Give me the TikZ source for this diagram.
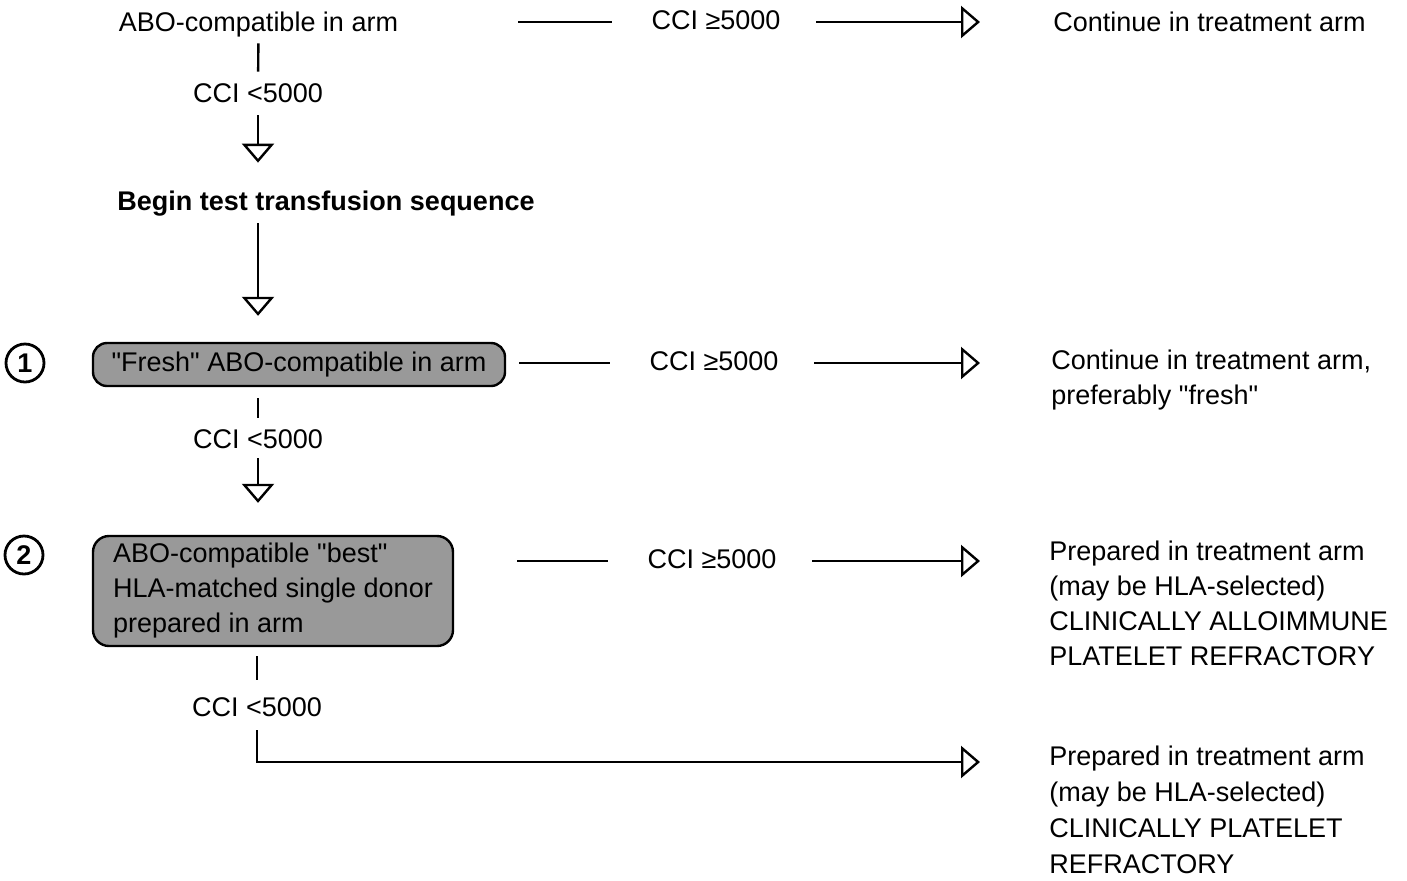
\documentclass[tikz,border=0pt]{standalone}
\usepackage{fontspec}
\setmainfont{Liberation Sans}[Ligatures=TeXOff]
\usetikzlibrary{arrows.meta}
\begin{document}
\begin{tikzpicture}[x=0.5pt,y=-0.5pt,
  every node/.style={font=\fontsize{13.5pt}{17.5pt}\selectfont},
  lbl/.style={inner sep=0pt,text height=9.5pt,text depth=2.5pt},
  cci/.style={lbl,minimum width=100pt},
  outc/.style={inner sep=0pt,align=left,anchor=west},
  stepbox/.style={draw,line width=1.2pt,fill=black!40,rounded corners=7pt,inner sep=0pt},
  num/.style={circle,draw,line width=1.4pt,minimum size=19pt,inner sep=0pt,font=\fontsize{13.5pt}{13.5pt}\selectfont\bfseries},
  ln/.style={line width=1.2pt},
  arr/.style={line width=1.2pt,-{Triangle[open,length=9.5pt,width=16pt,line width=1.2pt]}}
]
\useasboundingbox (0,0) rectangle (1407,880);

% left column
\node[lbl] (n1) at (258.5,24) {ABO-compatible in arm};
\node[lbl] (lt1) at (258,95) {CCI <5000};
\node[lbl,font=\fontsize{13.5pt}{17.5pt}\selectfont\bfseries] (beg) at (326,203) {Begin test transfusion sequence};
\node[stepbox,minimum width=206pt,minimum height=21.5pt] (box1) at (299,364.5) {"Fresh" ABO-compatible in arm};
\node[lbl] (lt2) at (258,441) {CCI <5000};
\node[stepbox,minimum width=180pt,minimum height=55pt,align=left,rounded corners=8pt] (box2) at (273,591)
  {ABO-compatible "best"\\HLA-matched single donor\\prepared in arm};
\node[lbl] (lt3) at (257,709) {CCI <5000};

% circled numbers
\node[num] (c1) at (25,363) {1};
\node[num] (c2) at (24,555) {2};

% middle labels
\node[cci] (ge1) at (716,22) {CCI ≥5000};
\node[cci] (ge2) at (714,363) {CCI ≥5000};
\node[cci] (ge3) at (712,561) {CCI ≥5000};

% outcomes
\node[outc] (o1) at (1053,22) {Continue in treatment arm};
\node[outc] (o2) at (1051,380) {Continue in treatment arm,\\preferably "fresh"};
\node[outc] (o3) at (1049,603) {Prepared in treatment arm\\(may be HLA-selected)\\CLINICALLY ALLOIMMUNE\\PLATELET REFRACTORY};
\node[outc,font=\fontsize{13.5pt}{18pt}\selectfont] (o4) at (1049,810) {Prepared in treatment arm\\(may be HLA-selected)\\CLINICALLY PLATELET\\REFRACTORY};
\coordinate (e4) at (980,762);

% vertical flow
\draw[ln,shorten <=3.5pt,shorten >=5.5pt] (n1) -- (lt1);
\draw[arr,shorten <=4pt,shorten >=14pt] (lt1.south) -- (lt1.south |- beg.north);
\draw[arr,shorten <=4pt,shorten >=13pt] (lt1.south |- beg.south) -- (lt1.south |- box1.north);
\draw[ln,shorten <=5.5pt,shorten >=5.5pt] (lt2.north |- box1.south) -- (lt2.north);
\draw[arr,shorten <=2.5pt,shorten >=16pt] (lt2.south) -- (lt2.south |- box2.north);
\draw[ln,shorten <=4.5pt,shorten >=8.5pt] (lt3.north |- box2.south) -- (lt3.north);
\draw[arr,shorten <=4.5pt] (lt3.south) |- (e4);

% horizontal flow
\draw[ln,shorten <=60pt,shorten >=2pt] (n1.east |- ge1.west) -- (ge1.west);
\draw[arr,shorten >=36.5pt] (ge1.east) -- (ge1.east -| o1.west);
\draw[ln,shorten <=6.5pt,shorten >=2pt] (box1.east |- ge2.west) -- (ge2.west);
\draw[arr,shorten >=35.5pt] (ge2.east) -- (ge2.east -| o2.west);
\draw[ln,shorten <=31.5pt,shorten >=2pt] (box2.east |- ge3.west) -- (ge3.west);
\draw[arr,shorten >=34.5pt] (ge3.east) -- (ge3.east -| o3.west);
\end{tikzpicture}
\end{document}
